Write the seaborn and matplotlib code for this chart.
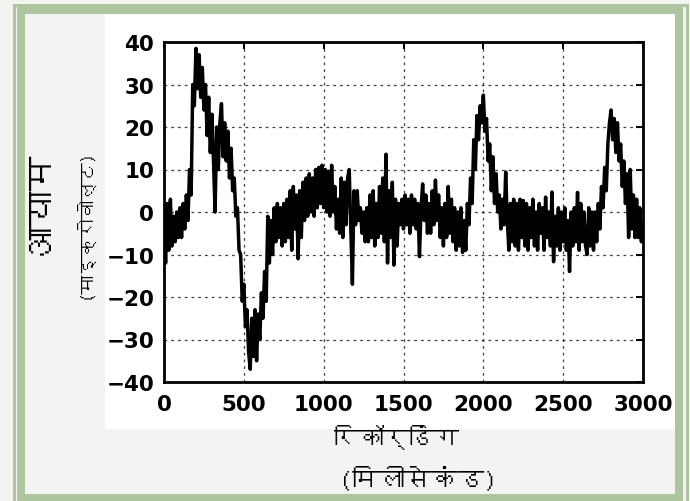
import numpy as np
import pandas as pd
import matplotlib
matplotlib.use("Agg")
import matplotlib.pyplot as plt
import seaborn as sns
from matplotlib import font_manager
from matplotlib.ft2font import FT2Font
from matplotlib.patches import Rectangle

# ---------------- data ----------------
time_start_ms = 0
time_step_ms = 10
amplitude_uv = [
    -2, -12, 2, -9, 3, -8, -1, -7, 0, -6,
    1, -6, 2, -4, 4, -2, 10, 4, 30, 25,
    38.5, 29, 37, 27, 34, 24, 30, 18, 27, 14,
    23, 12, 0, 20, 10, 21, 25.5, 13, 21, 12,
    19, 8, 15, 5, 8, -1, 1, -9, -10, -21,
    -17, -27, -23, -33, -37, -25, -34, -23, -35, -24,
    -30, -19, -25, -14, -21, -1, -12, -2, -10, 1,
    -7, 2, -6, 1, -8, 2, -7, 3, -6, 5,
    -9, 6, -4, 4, -11, 5, -6, 7, -2, 8,
    -1, 9, 0, 8, -1, 10, 1, 10.5, 2, 11,
    1, 10, 0, 9.6, -1, 11, 0, 6, -4, 3,
    -5, 8, -6, 7, -3, 8, 10, -4, -17, 5,
    -3, 5, -2, 1, -5, 0, -7, 1, -7, 4,
    -6, 5, -8, 2, -6, 6, -5, 8, -7, 13.6,
    -12, 5, -6, 7, -12.5, 3, -8, 2, -3, 3,
    -4, 4, -3, 3, -5, 4, -3, 3, -4, 2,
    -10.5, 1, 6.6, -2, 4, -5, 2, -5, 5, -3,
    7.5, -2, 4, -6, 1, -8, 2, -6, 6, -5,
    3, -7, 1, -9, 0, -8, 1, -9.5, -2, -9,
    2, -3, 8, 2, 17, 10, 22.7, 17, 25, 21,
    27.5, 19, 22, 12, 16, 5, 13, 2, 9, 0,
    4, -4, 3, -3, 9.4, -2, -9, 2, -7, 3,
    -8, 2, -9, 3, -6, 2.7, -8, 2, -9, 1,
    -6, 3, -8, 0, -9, 2, -5, 1, -9, 3.5,
    -6, 0, -8, 4.7, -11.7, -1, -8, 1, -9, 0,
    -7, 1, -9, -2, -14, 0, -8, 1, -7, 4.6,
    -9, 2, -7, 0, -8, -10, 1, -8, 0, -9,
    0, -7, 2, -4, 6, 1, 10.5, 5, 16, 21,
    24, 17, 22, 14, 21, 12, 16, 6, 12, 2,
    9, -6, 10, -4, 4, -6, 3, -6, 1, -7,
    -2,
]
time_ms = time_start_ms + time_step_ms * np.arange(len(amplitude_uv))

x_ticks = [0, 500, 1000, 1500, 2000, 2500, 3000]
y_ticks = [-40, -30, -20, -10, 0, 10, 20, 30, 40]

y_label_main = "आयाम"
y_label_unit = "(माइक्रोवोल्ट)"
x_label_main = "रिकॉर्डिंग"
x_label_unit = "(मिलीसेकंड)"

# ---------------- fonts ----------------
def find_devanagari_font():
    seen = set()
    for f in font_manager.fontManager.ttflist:
        if f.fname in seen:
            continue
        seen.add(f.fname)
        try:
            ft = FT2Font(f.fname)
            if ft.get_char_index(0x0906) and ft.get_char_index(0x092F):
                return f.name
        except Exception:
            pass
    return None

deva = find_devanagari_font()
hindi_family = [deva, "DejaVu Sans"] if deva else ["DejaVu Sans"]

sns.set_style("white")
plt.rcParams["font.family"] = ["DejaVu Sans"]

# ---------------- figure ----------------
W, H = 690, 502
fig = plt.figure(figsize=(W / 100, H / 100), dpi=100, facecolor="#f3f4f2")

# white panel behind the chart
fig.patches.append(Rectangle((105 / W, 1 - 430 / H), (680 - 105) / W, (430 - 14) / H,
                             transform=fig.transFigure, facecolor="white",
                             edgecolor="none", zorder=-2))

# green double frame
green = "#aec59f"
def frame(l, t, r, b, lw_px):
    fig.patches.append(Rectangle((l / W, 1 - b / H), (r - l) / W, (b - t) / H,
                                 transform=fig.transFigure, facecolor="none",
                                 edgecolor=green, linewidth=lw_px * 0.72, zorder=-1))
frame(13.5, 5.5, 686.5, 506, 3)
frame(21, 11, 679, 499, 8)

ax = fig.add_axes([164 / W, 1 - 383 / H, (643 - 164) / W, (383 - 43) / H])
ax.set_zorder(5)
ax.set_facecolor("white")

df = pd.DataFrame({"time": time_ms, "amp": amplitude_uv})
sns.lineplot(data=df, x="time", y="amp", color="black", linewidth=2.5,
             estimator=None, ax=ax, zorder=3)

ax.set_xlim(0, 3000)
ax.set_ylim(-40, 40)
ax.set_xticks(x_ticks)
ax.set_yticks(y_ticks)
ax.set_xticklabels([str(v) for v in x_ticks])
ax.set_yticklabels([str(v).replace("-", "\u2212") for v in y_ticks])
ax.set_xlabel("")
ax.set_ylabel("")

ax.grid(True, color="black", linestyle=(0, (2.2, 3.2)), linewidth=0.9, alpha=0.75)
ax.tick_params(direction="in", length=5, width=1.4, top=True, right=True,
               labelsize=15.5, pad=7, colors="black")
ax.tick_params(axis="x", pad=9)
for lab in ax.get_xticklabels() + ax.get_yticklabels():
    lab.set_fontweight("bold")
for s in ax.spines.values():
    s.set_visible(True)
    s.set_color("black")
    s.set_linewidth(2.0)

# axis titles (Hindi)
fig.text(40 / W, 1 - 203 / H, y_label_main, rotation=90, ha="center", va="center",
         fontsize=25, family=hindi_family, color="black")
fig.text(84 / W, 1 - 224 / H, y_label_unit, rotation=90, ha="center", va="center",
         fontsize=13.5, family=hindi_family, color="black")
fig.text(396 / W, 1 - 438 / H, x_label_main, ha="center", va="center",
         fontsize=18, family=hindi_family, color="black")
fig.text(418 / W, 1 - 479 / H, x_label_unit, ha="center", va="center",
         fontsize=19, family=hindi_family, color="black")

fig.savefig("out.png", dpi=100, facecolor=fig.get_facecolor())
